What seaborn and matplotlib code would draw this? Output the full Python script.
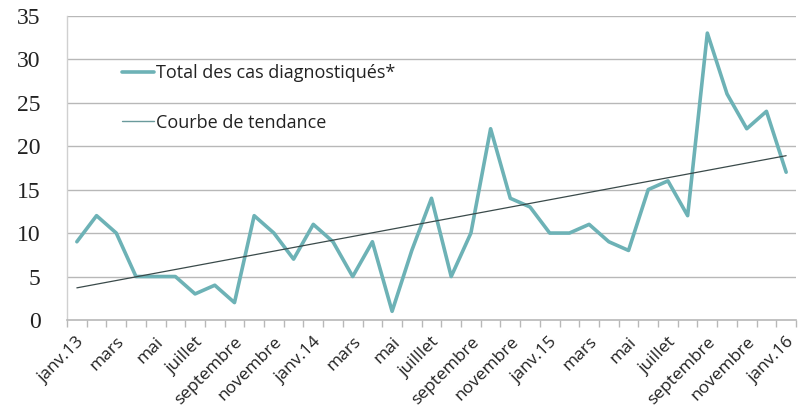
import numpy as np
import pandas as pd
import matplotlib
matplotlib.use("Agg")
import matplotlib.pyplot as plt
import seaborn as sns
from matplotlib.lines import Line2D

# ---- data ----
months_idx = list(range(37))
cases = [9, 12, 10, 5, 5, 5, 3, 4, 2, 12, 10, 7, 11, 9, 5, 9, 1, 8, 14, 5,
         10, 22, 14, 13, 10, 10, 11, 9, 8, 15, 16, 12, 33, 26, 22, 24, 17]
tick_labels = ["janv.13", "mars", "mai", "juillet", "septembre", "novembre",
               "janv.14", "mars", "mai", "juilllet", "septembre", "novembre",
               "janv.15", "mars", "mai", "juillet", "septembre", "novembre",
               "janv.16"]
series_label = "Total des cas diagnostiqués*"
trend_label = "Courbe de tendance"
y_ticks = [0, 5, 10, 15, 20, 25, 30, 35]

df = pd.DataFrame({"m": months_idx, "cases": cases})

sns.set_style("white")
plt.rcParams["font.family"] = ["Open Sans", "DejaVu Sans"]

line_color = "#6db2b6"
trend_color = "#3a4a4a"
grid_color = "#b8b8b8"

fig = plt.figure(figsize=(8.04, 4.20), dpi=100)
ax = fig.add_axes([67 / 804, 1 - 320 / 420, (796 - 67) / 804, (320 - 15.7) / 420])

sns.lineplot(data=df, x="m", y="cases", ax=ax, color=line_color, lw=2.6, zorder=3)
sns.regplot(data=df, x="m", y="cases", ax=ax, scatter=False, ci=None,
            line_kws={"color": trend_color, "lw": 0.9, "zorder": 4})

ax.set_xlim(-0.5, 36.5)
ax.set_ylim(0, 35)
ax.set_xlabel("")
ax.set_ylabel("")

# gridlines
ax.set_yticks(y_ticks)
ax.set_yticklabels([str(v) for v in y_ticks], family=["Liberation Serif"], fontsize=17)
for v in y_ticks[1:]:
    ax.axhline(v, color=grid_color, lw=1.0, zorder=1)
ax.tick_params(axis="y", length=7, color=grid_color, width=1.0, pad=12, labelcolor="#222222")

# x ticks: labels every 2 months, marks between categories
ax.set_xticks(list(range(0, 37, 2)))
ax.set_xticklabels(tick_labels, rotation=45, ha="right", rotation_mode="anchor",
                   fontsize=12.5, color="#222222")
ax.set_xticks([i - 0.5 for i in range(38)], minor=True)
ax.tick_params(axis="x", which="major", length=0, pad=10)
ax.tick_params(axis="x", which="minor", length=5, color=grid_color, width=1.0, bottom=True)

for s in ["top", "right"]:
    ax.spines[s].set_visible(False)
ax.spines["left"].set_color("#d0d0d0")
ax.spines["bottom"].set_color(grid_color)
ax.spines["left"].set_linewidth(1.0)
ax.spines["bottom"].set_linewidth(1.2)

handles = [Line2D([0], [0], color=line_color, lw=2.6),
           Line2D([0], [0], color="#6a9a9c", lw=1.0)]
leg = ax.legend(handles, [series_label, trend_label], loc="upper left",
                bbox_to_anchor=(0.065, 0.865), frameon=False, fontsize=13,
                handlelength=1.8, handletextpad=0.1, labelspacing=1.75,
                borderaxespad=0)
for t in leg.get_texts():
    t.set_color("#222222")

fig.savefig("out.png", dpi=100)
